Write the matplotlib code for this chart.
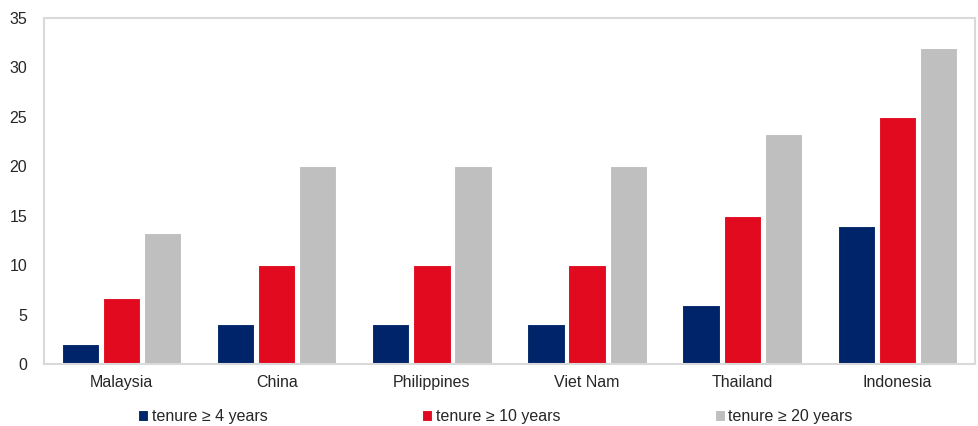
import numpy as np
import matplotlib
matplotlib.use("Agg")
import matplotlib.pyplot as plt

plt.rcParams['font.family'] = ['Liberation Sans', 'DejaVu Sans']

countries = ["Malaysia", "China", "Philippines", "Viet Nam", "Thailand", "Indonesia"]
series_labels = ["tenure \u2265 4 years", "tenure \u2265 10 years", "tenure \u2265 20 years"]
tenure_4 = [2.0, 4.0, 4.0, 4.0, 6.0, 14.0]
tenure_10 = [6.7, 10.0, 10.0, 10.0, 15.0, 25.0]
tenure_20 = [13.3, 20.0, 20.0, 20.0, 23.3, 32.0]
y_ticks = [0, 5, 10, 15, 20, 25, 30, 35]

colors = ["#002469", "#E20A1E", "#BFBFBF"]
text_color = "#262626"
frame_color = "#D9D9D9"
fs = 11.5

fig = plt.figure(figsize=(9.79, 4.26), dpi=100)
ax = fig.add_axes([0.0449, 0.1455, 0.951, 0.8122])

x = np.arange(len(countries))
width = 0.24
step = 0.265
for i, (vals, col, lab) in enumerate(zip([tenure_4, tenure_10, tenure_20], colors, series_labels)):
    ax.bar(x + (i - 1) * step, vals, width=width, color=col, edgecolor="white",
           linewidth=0.8, label=lab, zorder=2)

ax.set_xlim(-0.5, len(countries) - 0.5)
ax.set_ylim(0, 35)
ax.set_yticks(y_ticks)
ax.set_xticks(x)
ax.set_xticklabels(countries)
ax.tick_params(axis="both", length=0, labelsize=fs, colors=text_color)
ax.tick_params(axis="y", pad=12)
ax.tick_params(axis="x", pad=8)
for sp in ax.spines.values():
    sp.set_color(frame_color)
    sp.set_linewidth(1.5)

leg = ax.legend(loc="upper center", bbox_to_anchor=(0.485, -0.112), ncol=3, frameon=False,
                fontsize=fs, handlelength=0.62, handleheight=0.62, handletextpad=0.22,
                columnspacing=9.68, borderaxespad=0)
for t in leg.get_texts():
    t.set_color(text_color)

fig.savefig("out.png", dpi=100)
